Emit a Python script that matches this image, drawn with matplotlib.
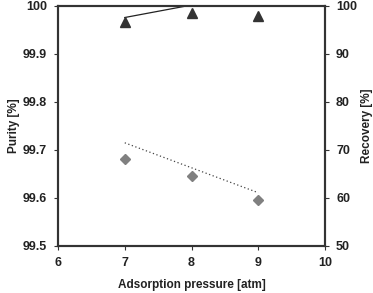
import matplotlib
matplotlib.use("Agg")
import matplotlib.pyplot as plt

pressure = [7, 8, 9]
purity = [99.967, 99.986, 99.979]
recovery = [68.1, 64.6, 59.6]
purity_trend_x = [7, 8]
purity_trend_y = [99.976, 100.002]
recovery_trend_x = [7, 9]
recovery_trend_y = [71.5, 61.1]

plt.rcParams['font.family'] = ['Liberation Sans', 'DejaVu Sans']
plt.rcParams['font.weight'] = 'bold'

fig = plt.figure(figsize=(3.73, 2.93), dpi=100)
ax = fig.add_axes([58/373, 1-246/293, (325-58)/373, 240/293])
ax2 = ax.twinx()

ax.plot(purity_trend_x, purity_trend_y, color='#222222', lw=0.9, zorder=2)
ax.plot(pressure, purity, linestyle='none', marker='^', ms=6.5, color='#333333', zorder=3)
ax2.plot(recovery_trend_x, recovery_trend_y, color='#444444', lw=0.9, linestyle=(0, (1, 2)))
ax2.plot(pressure, recovery, linestyle='none', marker='D', ms=5.5, color='#808080')

ax.set_xlim(6, 10)
ax.set_ylim(99.5, 100)
ax2.set_ylim(50, 100)
ax.set_xticks([6, 7, 8, 9, 10])
ax.set_yticks([99.5, 99.6, 99.7, 99.8, 99.9, 100])
ax.set_yticklabels(['99.5', '99.6', '99.7', '99.8', '99.9', '100'])
ax2.set_yticks([50, 60, 70, 80, 90, 100])

for a in (ax, ax2):
    for s in a.spines.values():
        s.set_linewidth(1.5)
        s.set_color('#333333')
    a.tick_params(direction='out', length=3, width=0.8, colors='#333333', labelsize=9, pad=5)
    for lbl in a.get_xticklabels() + a.get_yticklabels():
        lbl.set_fontweight('bold')
        lbl.set_color('#222222')

ax.set_xlabel('Adsorption pressure [atm]', fontsize=8.5, fontweight='bold', labelpad=7, color='#222222')
ax.set_ylabel('Purity [%]', fontsize=8.5, fontweight='bold', labelpad=2, color='#222222')
ax2.set_ylabel('Recovery [%]', fontsize=8.5, fontweight='bold', labelpad=3, color='#222222')

fig.savefig('out.png', dpi=100)
